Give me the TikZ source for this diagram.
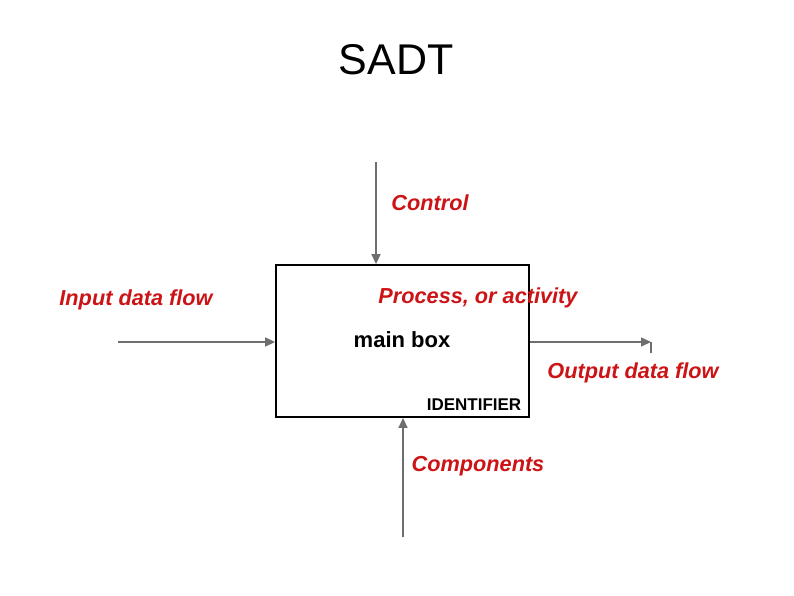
\documentclass[tikz,border=0pt]{standalone}
\usepackage{fontspec}
\setmainfont{Liberation Sans}
\usetikzlibrary{arrows.meta}
\definecolor{lblred}{HTML}{CC1416}
\definecolor{arrgray}{HTML}{6E6E6E}
\tikzset{
  redlbl/.style={text=lblred, font=\fontsize{21.7}{25}\selectfont\bfseries\itshape, inner sep=0pt},
  flow/.style={draw=arrgray, line width=1.4pt, -{Triangle[length=10pt,width=9pt]}},
}
\begin{document}
\begin{tikzpicture}[x=1pt,y=-1pt]
\useasboundingbox (0,0) rectangle (794,595);
\fill[white] (0,0) rectangle (794,595);
\node[inner sep=0pt, font=\fontsize{43}{50}\selectfont] (title) at (396,60) {SADT};
\node[draw=black, line width=1.8pt, minimum width=253pt, minimum height=152pt, inner sep=0pt] (box) at (402.5,341) {};
\node[font=\fontsize{22}{26}\selectfont\bfseries, inner sep=0pt] (main) at (402,340) {main box};
\node[font=\fontsize{17}{20}\selectfont\bfseries, inner sep=0pt] (ident) at (474,405) {IDENTIFIER};
\node[redlbl] (ctl) at (430,203) {Control};
\node[redlbl] (inp) at (136,300) {Input data flow};
\node[redlbl] (proc) at (478,298) {Process, or activity};
\node[redlbl] (outp) at (633,373) {Output data flow};
\node[redlbl] (comp) at (478,466) {Components};
\coordinate (ctop) at (376,162);
\coordinate (inl) at (118,342);
\coordinate (outr) at (651,342);
\coordinate (outtick) at (651,353);
\coordinate (cbot) at (403,537);
\draw[flow] (ctop) -- (ctop |- box.north);
\draw[flow] (inl) -- (inl -| box.west);
\draw[flow] (box.east |- outr) -- (outr);
\draw[draw=arrgray, line width=1.2pt] (outr) -- (outtick);
\draw[flow] (cbot) -- (cbot |- box.south);
\end{tikzpicture}
\end{document}
